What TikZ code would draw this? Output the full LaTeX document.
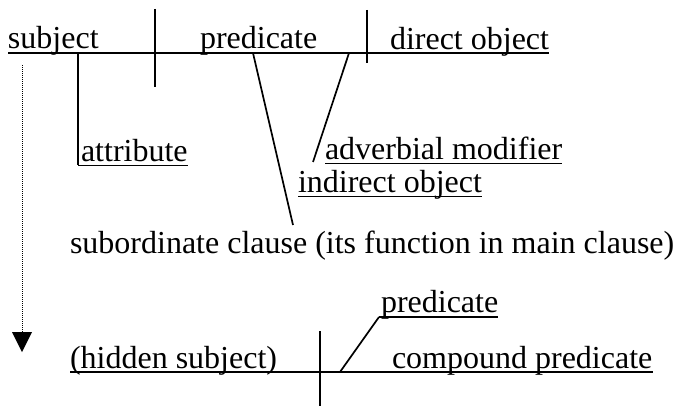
\documentclass[tikz,border=0pt]{standalone}
\usepackage{fontspec}
\setmainfont{Liberation Serif}
\begin{document}
\begin{tikzpicture}[x=1pt,y=-1pt,
  lbl/.style={inner sep=0pt, outer sep=0pt, anchor=base west, font=\fontsize{32pt}{38pt}\selectfont},
  mainline/.style={line width=1.7pt, black},
  uline/.style={line width=1.4pt, black},
  dotline/.style={line width=1pt, dash pattern=on 1pt off 1pt, black}]
\useasboundingbox (0,0) rectangle (680,406);
% top clause
\node[lbl] (subj) at (8,49) {subject};
\node[lbl] (pred) at (200,49) {predicate};
\node[lbl] (dobj) at (390,50) {direct object};
\coordinate (tl) at (8,53);
\coordinate (tr) at (549,53);
\draw[mainline] (tl) -- (tr);
\coordinate (d1a) at (155,9);  \coordinate (d1b) at (155,87);
\coordinate (d2a) at (367,10); \coordinate (d2b) at (367,63);
\draw[mainline] (d1a) -- (d1b);
\draw[mainline] (d2a) -- (d2b);
% attribute
\node[lbl] (attr) at (81,162) {attribute};
\coordinate (a0) at (78,53);
\coordinate (a1) at (78,165.5);
\draw[mainline] (a0) -- (a1);
\draw[uline] (a1) -- ([yshift=-3.5pt]attr.base east);
% adverbial modifier
\node[lbl] (adv) at (325,160) {adverbial modifier};
\draw[uline] ([yshift=-3.5pt]adv.base west) -- ([yshift=-3.5pt]adv.base east);
\coordinate (v0) at (349,53);
\coordinate (v1) at (313,162);
\draw[mainline] (v0) -- (v1);
% indirect object
\node[lbl] (iobj) at (298,193) {indirect object};
\draw[uline] ([yshift=-3.5pt]iobj.base west) -- ([yshift=-3.5pt]iobj.base east);
\coordinate (s0) at (253,53);
\coordinate (s1) at (293,225);
\draw[mainline] (s0) -- (s1);
% subordinate clause
\node[lbl] (sub) at (70,254) {subordinate clause (its function in main clause)};
% dotted arrow
\coordinate (p0) at (22,65);
\coordinate (p1) at (22,332);
\draw[dotline] (p0) -- (p1);
\fill[black] (12,332) -- (32,332) -- (22,352) -- cycle;
% bottom clause
\node[lbl] (hid) at (70,368) {(hidden subject)};
\node[lbl] (cpred) at (392,368) {compound predicate};
\node[lbl] (pred2) at (381,312) {predicate};
\coordinate (bl) at (70,372);
\coordinate (br) at (653,372);
\draw[mainline] (bl) -- (br);
\coordinate (d3a) at (320,331); \coordinate (d3b) at (320,406);
\draw[mainline] (d3a) -- (d3b);
\coordinate (c0) at (340,372);
\coordinate (c1) at (379,317);
\draw[mainline] (c0) -- (c1);
\draw[uline] (c1) -- ([yshift=-5pt]pred2.base east);
\end{tikzpicture}
\end{document}
